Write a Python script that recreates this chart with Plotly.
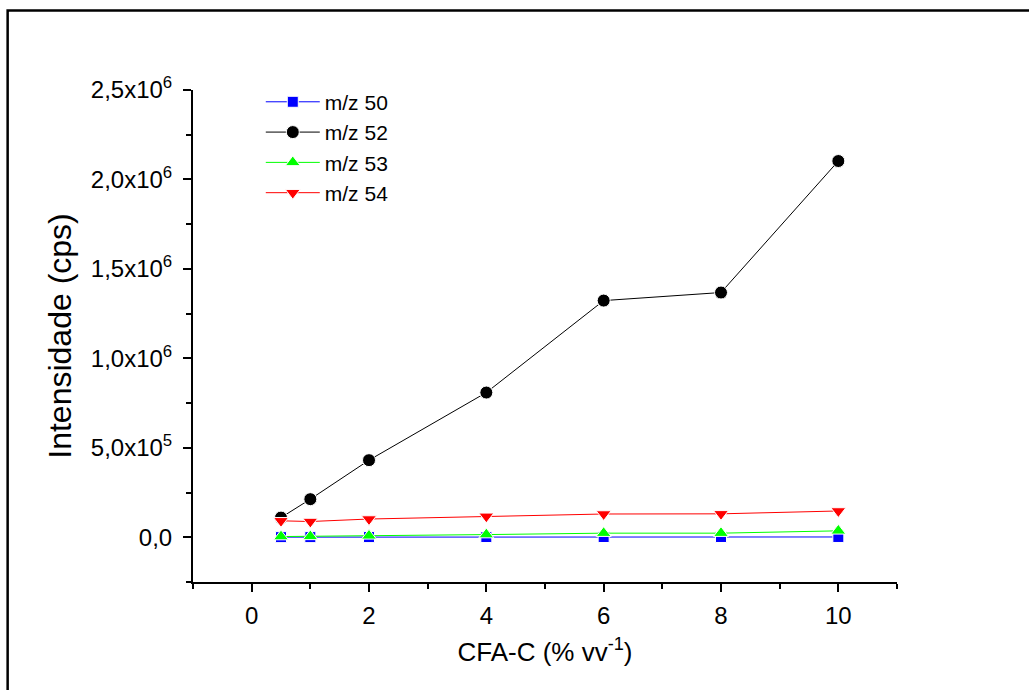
import plotly.graph_objects as go

x_vals = [0.5, 1, 2, 4, 6, 8, 10]
mz50 = [800, 900, 1100, 1400, 1500, 1600, 1700]
mz52 = [110000, 213000, 431000, 809000, 1323000, 1368000, 2103000]
mz53 = [4000, 5000, 8000, 15000, 23000, 23000, 36000]
mz54 = [92000, 88000, 102000, 117000, 130000, 131000, 147000]

series_names = ["m/z 50", "m/z 52", "m/z 53", "m/z 54"]
series_colors = ["#0000ff", "#000000", "#00ff00", "#ff0000"]
series_symbols = ["square", "circle", "triangle-up", "triangle-down"]
series_sizes = [11, 13, 13, 13]
series_data = [mz50, mz52, mz53, mz54]

y_tickvals = [0, 500000, 1000000, 1500000, 2000000, 2500000]
y_ticktext = ["0,0", "5,0x10<sup>5</sup>", "1,0x10<sup>6</sup>", "1,5x10<sup>6</sup>",
              "2,0x10<sup>6</sup>", "2,5x10<sup>6</sup>"]
x_tickvals = [0, 2, 4, 6, 8, 10]

FONT = "Liberation Sans, Arial, sans-serif"

fig = go.Figure()
for name, col, sym, sz, data in zip(series_names, series_colors, series_symbols, series_sizes, series_data):
    fig.add_trace(go.Scatter(
        x=x_vals, y=data, name=name, mode="lines+markers",
        line=dict(color=col, width=1),
        marker=dict(symbol=sym, size=sz, color=col, line=dict(color="white", width=1)),
    ))

axis_common = dict(
    showline=True, linecolor="black", linewidth=2, mirror=False,
    ticks="outside", ticklen=8, tickwidth=2, tickcolor="black",
    showgrid=False, zeroline=False,
    tickfont=dict(family=FONT, size=24, color="black"),
)

fig.update_layout(
    width=1029, height=690,
    margin=dict(l=193, r=131.5, t=90, b=108),
    paper_bgcolor="white", plot_bgcolor="white",
    font=dict(family=FONT, color="black"),
    showlegend=True,
    legend=dict(x=0.0963, y=1.017, xanchor="left", yanchor="top",
                font=dict(family=FONT, size=21, color="black"),
                bgcolor="rgba(0,0,0,0)", tracegroupgap=0, itemwidth=54),
    xaxis=dict(
        range=[-1, 11], tickmode="array", tickvals=x_tickvals,
        ticktext=[str(v) for v in x_tickvals],
        minor=dict(ticks="outside", ticklen=5, tickwidth=2, tickcolor="black",
                   tickmode="array", tickvals=[-1, 1, 3, 5, 7, 9, 11]),
        title=dict(text="CFA-C (% vv<sup>-1</sup>)", font=dict(family=FONT, size=26), standoff=15),
        ticklabelstandoff=3,
        **axis_common,
    ),
    yaxis=dict(
        range=[-250000, 2500000], tickmode="array", tickvals=y_tickvals, ticktext=y_ticktext,
        minor=dict(ticks="outside", ticklen=5, tickwidth=2, tickcolor="black",
                   tickmode="array", tickvals=[-250000, 250000, 750000, 1250000, 1750000, 2250000]),
        title=dict(text="Intensidade (cps)", font=dict(family=FONT, size=32), standoff=10),
        ticklabelstandoff=6,
        **axis_common,
    ),
)

# outer frame (only top and left edges visible in the reference)
fig.add_shape(type="rect", xref="paper", yref="paper",
              x0=-0.2633, x1=1.25, y0=-0.3, y1=1.1616,
              line=dict(color="black", width=2.5), fillcolor="rgba(0,0,0,0)", layer="below")

fig.write_html("out.html")
